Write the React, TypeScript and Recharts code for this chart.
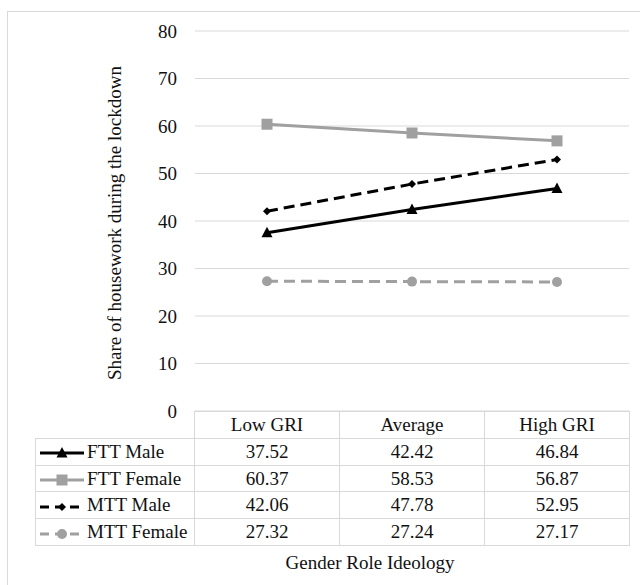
import { LineChart, Line, XAxis, YAxis, CartesianGrid } from 'recharts'

const categories = ['Low GRI', 'Average', 'High GRI']
const fttMale = [37.52, 42.42, 46.84]
const fttFemale = [60.37, 58.53, 56.87]
const mttMale = [42.06, 47.78, 52.95]
const mttFemale = [27.32, 27.24, 27.17]
const yTicks = [0, 10, 20, 30, 40, 50, 60, 70, 80]

const BLACK = '#000000'
const GRAY = '#a0a0a0'
const GRID = '#d9d9d9'
const FONT = '"Liberation Serif", "Times New Roman", serif'

type Marker = 'triangle' | 'square' | 'diamond' | 'circle'

const series = [
  { key: 'fttMale', name: 'FTT Male', values: fttMale, color: BLACK, dash: undefined, marker: 'triangle' as Marker },
  { key: 'fttFemale', name: 'FTT Female', values: fttFemale, color: GRAY, dash: undefined, marker: 'square' as Marker },
  { key: 'mttMale', name: 'MTT Male', values: mttMale, color: BLACK, dash: '11 6', marker: 'diamond' as Marker },
  { key: 'mttFemale', name: 'MTT Female', values: mttFemale, color: GRAY, dash: '11 6', marker: 'circle' as Marker },
]

const data = categories.map((cat, i) => {
  const row: Record<string, string | number> = { cat }
  series.forEach((s) => (row[s.key] = s.values[i]))
  return row
})

function MarkerShape({ kind, cx, cy, color }: { kind: Marker; cx: number; cy: number; color: string }) {
  if (kind === 'triangle')
    return <polygon points={`${cx},${cy - 6} ${cx - 5.5},${cy + 4.5} ${cx + 5.5},${cy + 4.5}`} fill={color} />
  if (kind === 'square') return <rect x={cx - 5.5} y={cy - 5.5} width={11} height={11} fill={color} />
  if (kind === 'diamond')
    return <polygon points={`${cx},${cy - 4} ${cx + 4},${cy} ${cx},${cy + 4} ${cx - 4},${cy}`} fill={color} />
  return <circle cx={cx} cy={cy} r={5} fill={color} />
}

function LegendKey({ s }: { s: (typeof series)[number] }) {
  return (
    <svg width={44} height={14} style={{ verticalAlign: 'middle', marginRight: 3 }}>
      <line x1={0} y1={7} x2={44} y2={7} stroke={s.color} strokeWidth={3} strokeDasharray={s.dash ? '9 6' : undefined} />
      <MarkerShape kind={s.marker} cx={22} cy={7} color={s.color} />
    </svg>
  )
}

function YTick({ x, y, payload }: any) {
  return (
    <text x={x} y={y} dy={6.5} textAnchor="end" fill="#111" fontSize={19} fontFamily={FONT}>
      {payload.value}
    </text>
  )
}

const cellBorder = `1px solid ${GRID}`

export default function App() {
  return (
    <div style={{ position: 'absolute', left: 0, top: 0, width: 640, height: 585, background: '#fff', fontFamily: FONT, color: '#111', overflow: 'hidden' }}>
      <div style={{ position: 'absolute', left: 7, top: 11, width: 700, height: 700, borderLeft: cellBorder, borderTop: cellBorder }} />
      <div style={{ position: 'absolute', left: 0, top: 0 }}>
        <LineChart width={640} height={421} data={data} margin={{ top: 31, right: 11, left: 135, bottom: 10 }}>
          <CartesianGrid stroke={GRID} strokeWidth={1.2} vertical={false} />
          <XAxis dataKey="cat" hide padding={{ left: 72, right: 72 }} />
          <YAxis
            domain={[0, 80]}
            ticks={yTicks}
            interval={0}
            width={60}
            axisLine={false}
            tickLine={false}
            tickSize={0}
            tickMargin={18}
            tick={<YTick />}
          />
          {series.map((s) => (
            <Line
              key={s.key}
              dataKey={s.key}
              name={s.name}
              stroke={s.color}
              strokeWidth={3}
              strokeDasharray={s.dash}
              isAnimationActive={false}
              dot={(p: any) => <MarkerShape key={`${s.key}-${p.index}`} kind={s.marker} cx={p.cx} cy={p.cy} color={s.color} />}
              activeDot={false}
            />
          ))}
        </LineChart>
      </div>
      <div
        style={{
          position: 'absolute',
          left: 115,
          top: 223,
          transform: 'translate(-50%, -50%) rotate(-90deg)',
          whiteSpace: 'nowrap',
          fontSize: 19,
        }}
      >
        Share of housework during the lockdown
      </div>
      <table
        style={{
          position: 'absolute',
          left: 35,
          top: 411,
          borderCollapse: 'collapse',
          fontSize: 19,
          tableLayout: 'fixed',
          width: 594,
        }}
      >
        <colgroup>
          <col style={{ width: 159 }} />
          <col style={{ width: 145 }} />
          <col style={{ width: 145 }} />
          <col style={{ width: 145 }} />
        </colgroup>
        <tbody>
          <tr style={{ height: 27 }}>
            <td style={{ padding: 0 }} />
            {categories.map((c) => (
              <td key={c} style={{ border: cellBorder, textAlign: 'center', padding: 0 }}>
                {c}
              </td>
            ))}
          </tr>
          {series.map((s) => (
            <tr key={s.key} style={{ height: 26.7 }}>
              <td style={{ border: cellBorder, padding: '0 0 0 4px', whiteSpace: 'nowrap' }}>
                <LegendKey s={s} />
                {s.name}
              </td>
              {s.values.map((v, i) => (
                <td key={i} style={{ border: cellBorder, textAlign: 'center', padding: 0 }}>
                  {v.toFixed(2)}
                </td>
              ))}
            </tr>
          ))}
        </tbody>
      </table>
      <div style={{ position: 'absolute', left: 370, top: 563, transform: 'translate(-50%, -50%)', whiteSpace: 'nowrap', fontSize: 19 }}>
        Gender Role Ideology
      </div>
    </div>
  )
}
